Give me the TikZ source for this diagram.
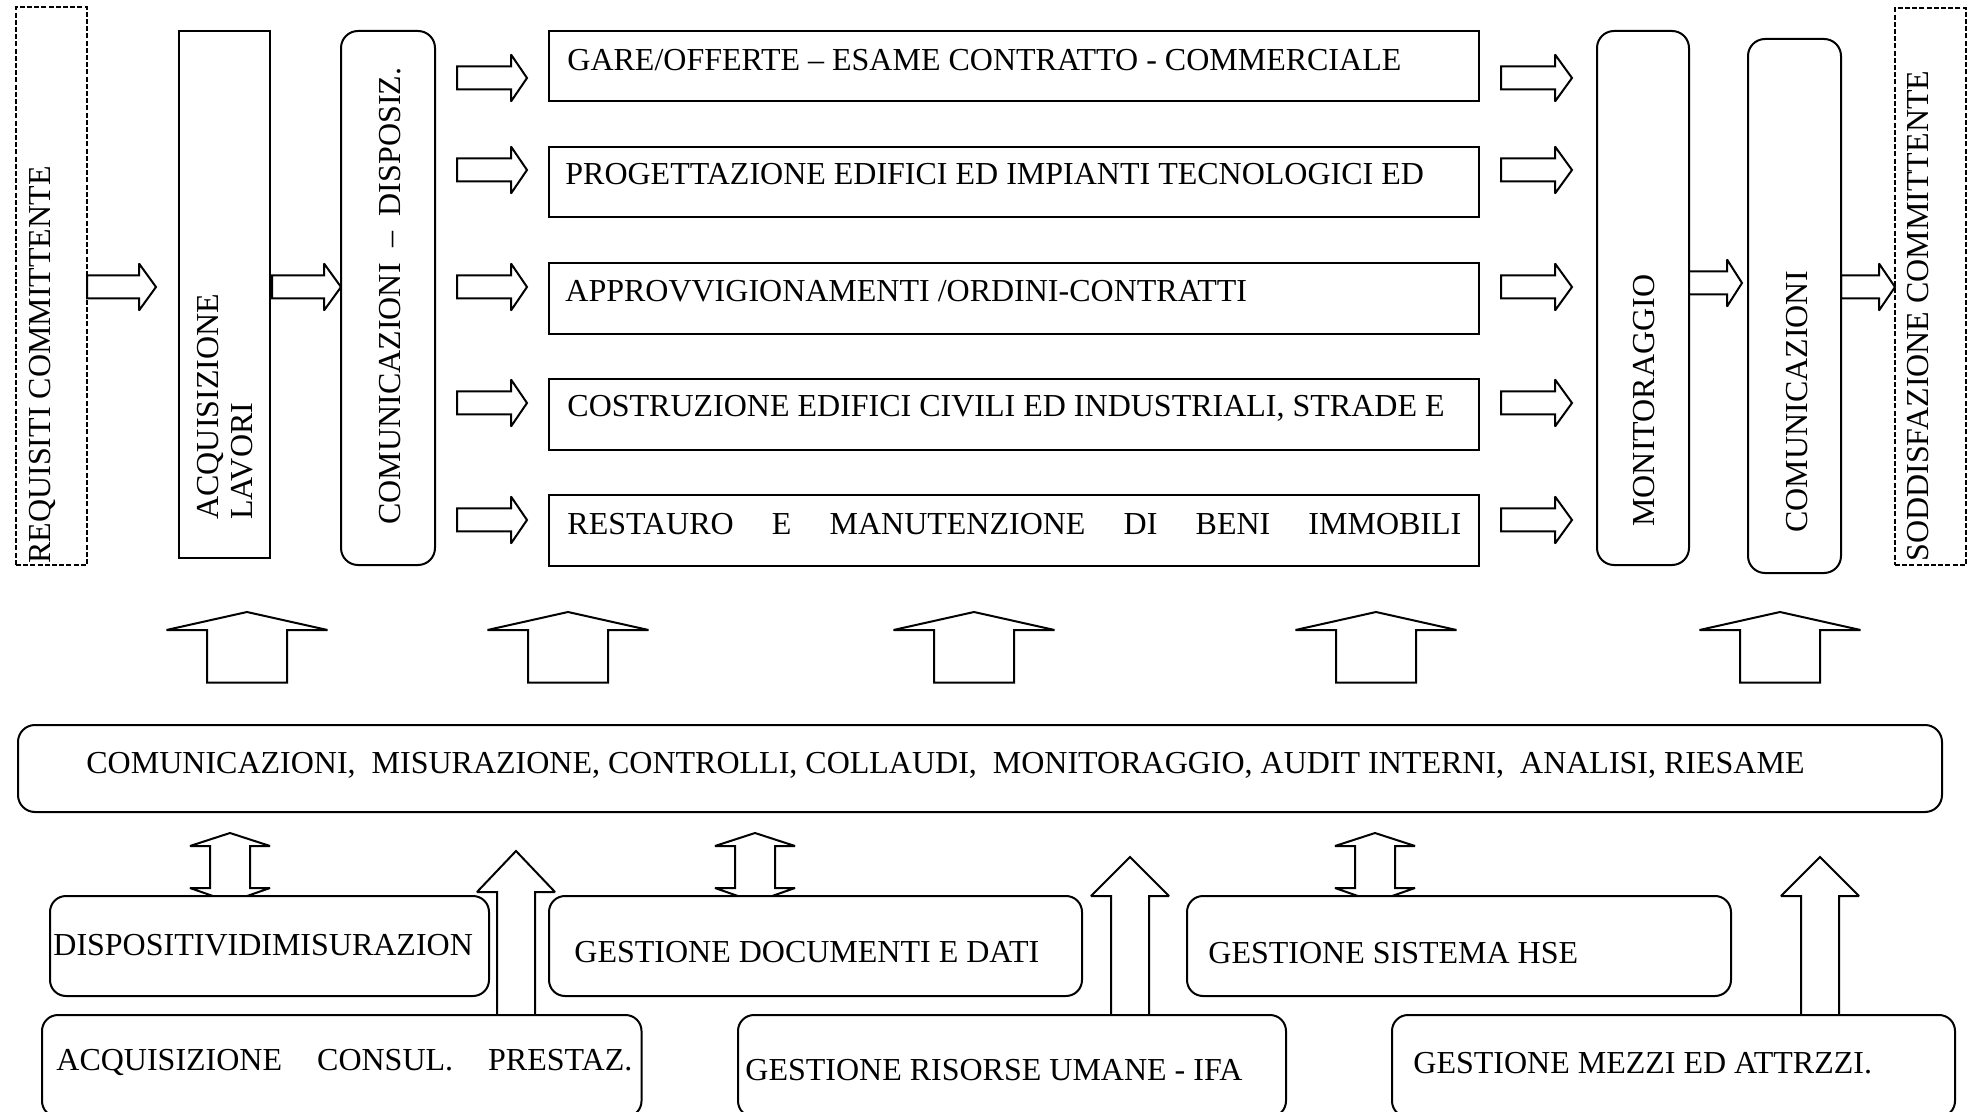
\documentclass[tikz,border=0pt]{standalone}
\usepackage{fontspec}
\setmainfont{Liberation Serif}
\usetikzlibrary{fit}
\tikzset{
  sbox/.style={draw, line width=1pt, fill=white, inner sep=0pt},
  rbox/.style={draw, line width=1pt, fill=white, inner sep=0pt, rounded corners=8.5pt},
  dbox/.style={draw, line width=1pt, dash pattern=on 2.5pt off 1.1pt, inner sep=0pt},
  blockarrow/.style={draw, line width=1pt, fill=white, line join=miter, miter limit=2},
  txt/.style={inner sep=0pt, anchor=base west, font=\fontsize{16pt}{19pt}\selectfont},
}
% right block arrow: x0, x1 (head base), xtip, ycenter
\newcommand\RArrow[4]{%
  \draw[blockarrow] ({#1},{#4-11.5}) -- ({#2},{#4-11.5}) -- ({#2},{#4-23.5}) -- ({#3},{#4})
    -- ({#2},{#4+23.5}) -- ({#2},{#4+11.5}) -- ({#1},{#4+11.5}) -- cycle;}
% up block arrow: xc, ytip, yheadbase, ybottom, head half, shaft half
\newcommand\UArrow[6]{%
  \draw[blockarrow] ({#1-#6},{#4}) -- ({#1-#6},{#3}) -- ({#1-#5},{#3}) -- ({#1},{#2})
    -- ({#1+#5},{#3}) -- ({#1+#6},{#3}) -- ({#1+#6},{#4}) -- cycle;}
% up-down block arrow: xc
\newcommand\DArrow[1]{%
  \draw[blockarrow] ({#1},833) -- ({#1+40},846) -- ({#1+20},846) -- ({#1+20},888) -- ({#1+40},888)
    -- ({#1},902) -- ({#1-40},888) -- ({#1-20},888) -- ({#1-20},846) -- ({#1-40},846) -- cycle;}
\begin{document}
\begin{tikzpicture}[x=0.5pt, y=-0.5pt]
\useasboundingbox (0,0) rectangle (1971,1112);
\fill[white] (0,0) rectangle (1971,1112);
\clip (0,0) rectangle (1971,1112);

% ---------- top row: block arrows ----------
\RArrow{87}{139}{156}{287}
\RArrow{272}{324}{341}{287}
\foreach \yc in {78,170,287,403,520} {
  \RArrow{457}{511}{527}{\yc}
  \RArrow{1501}{1555}{1572}{\yc}
}
\RArrow{1688}{1727}{1742}{283}
\RArrow{1841}{1879}{1895}{287}

% ---------- top row: boxes ----------
\node[dbox, fit={(16,7) (87,565)}] (req) {};
\node[sbox, fit={(179,31) (270,558)}] (acq) {};
\node[rbox, fit={(341,31) (435,565)}] (comdisp) {};
\node[sbox, fit={(549,31) (1479,101)}] (p1) {};
\node[sbox, fit={(549,147) (1479,217)}] (p2) {};
\node[sbox, fit={(549,263) (1479,334)}] (p3) {};
\node[sbox, fit={(549,379) (1479,450)}] (p4) {};
\node[sbox, fit={(549,495) (1479,566)}] (p5) {};
\node[rbox, fit={(1597,31) (1689,565)}] (mon) {};
\node[rbox, fit={(1748,39) (1841,573)}] (comr) {};
\node[dbox, fit={(1895,8) (1966,565)}] (sodd) {};

% ---------- top row: texts ----------
\node[txt, rotate=90] (treq) at (50,564) {REQUISITI COMMITTENTE};
\node[txt, rotate=90] (tacq1) at (218,520) {ACQUISIZIONE};
\node[txt, rotate=90] (tacq2) at (252,520) {LAVORI};
\node[txt, rotate=90] (tcomdisp) at (400,525) {\makebox[228.5pt][s]{COMUNICAZIONI\hfill–\hfill DISPOSIZ.}};
\node[txt] (tp1) at (567,71) {GARE/OFFERTE – ESAME CONTRATTO - COMMERCIALE};
\node[txt] (tp2) at (565,185) {PROGETTAZIONE EDIFICI ED IMPIANTI TECNOLOGICI ED};
\node[txt] (tp3) at (565,302) {APPROVVIGIONAMENTI /ORDINI-CONTRATTI};
\node[txt] (tp4) at (567,417) {COSTRUZIONE EDIFICI CIVILI ED INDUSTRIALI, STRADE E};
\node[txt] (tp5) at (567,534) {\makebox[447pt][s]{RESTAURO\hfill E\hfill MANUTENZIONE\hfill DI\hfill BENI\hfill IMMOBILI}};
\node[txt, rotate=90] (tmon) at (1654,527) {MONITORAGGIO};
\node[txt, rotate=90] (tcomr) at (1807,533) {COMUNICAZIONI};
\node[txt, rotate=90] (tsodd) at (1928,562) {SODDISFAZIONE COMMITTENTE};

% ---------- middle: big up arrows ----------
\foreach \xc in {247,568,974,1376,1780} {
  \UArrow{\xc}{612}{630}{682.5}{80.5}{40}
}
\node[rbox, fit={(18,725) (1942,812)}] (big) {};
\node[txt] (tbig) at (86,773) {COMUNICAZIONI,~ MISURAZIONE, CONTROLLI, COLLAUDI,~ MONITORAGGIO, AUDIT INTERNI,~ ANALISI, RIESAME};

% ---------- bottom: arrows ----------
\DArrow{230}
\DArrow{755}
\DArrow{1375}
\UArrow{516}{851}{892}{1015}{39}{19}
\UArrow{1130}{857}{896}{1015}{39}{19}
\UArrow{1820}{857}{896}{1015}{39}{19}

% ---------- bottom: boxes ----------
\node[rbox, rounded corners=8pt, fit={(50,896) (489,996)}] (disp) {};
\node[rbox, rounded corners=8pt, fit={(549,896) (1082,996)}] (doc) {};
\node[rbox, rounded corners=8pt, fit={(1187,896) (1731,996)}] (hse) {};
\node[rbox, rounded corners=8pt, fit={(42,1015) (641.5,1117)}] (acqc) {};
\node[rbox, rounded corners=8pt, fit={(738,1015) (1286,1117)}] (ris) {};
\node[rbox, rounded corners=8pt, fit={(1392,1015) (1955,1117)}] (mezzi) {};

\node[txt] (tdisp) at (53,955) {DISPOSITIVIDIMISURAZION};
\node[txt] (tdoc) at (574,962) {GESTIONE DOCUMENTI E DATI};
\node[txt] (thse) at (1208,963) {GESTIONE SISTEMA HSE};
\node[txt] (tacqc) at (56,1070) {\makebox[288pt][s]{ACQUISIZIONE\hfill CONSUL.\hfill PRESTAZ.}};
\node[txt] (tris) at (745,1080) {GESTIONE RISORSE UMANE - IFA};
\node[txt] (tmezzi) at (1413,1073) {GESTIONE MEZZI ED ATTRZZI.};
\end{tikzpicture}
\end{document}
